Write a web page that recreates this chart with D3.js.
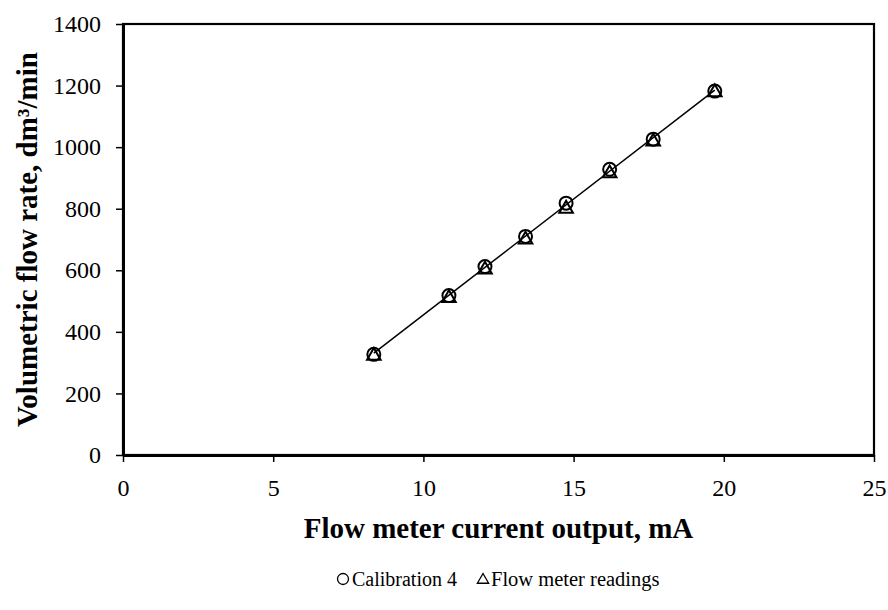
<!DOCTYPE html>
<html><head><meta charset="utf-8">
<script src="https://cdn.jsdelivr.net/npm/d3@7"></script>
<style>body{margin:0;background:#fff}svg{display:block}text{font-family:"Liberation Serif","Times New Roman",serif;fill:#000}</style>
</head><body><svg id="c" width="888" height="610"></svg>
<script>
const currentMA = [8.35, 10.85, 12.05, 13.4, 14.75, 16.2, 17.65, 19.7];
const calibration = [327, 518, 612, 710, 818, 928, 1026, 1182];
const flowMeter = [322, 510, 602, 700, 800, 915, 1018, 1178];
const xTicks = [0, 5, 10, 15, 20, 25];
const yTicks = [0, 200, 400, 600, 800, 1000, 1200, 1400];

const svg = d3.select("#c");
const L = 123, R = 874, T = 24, B = 455;
const x = d3.scaleLinear().domain([0, 25]).range([L, R]);
const y = d3.scaleLinear().domain([0, 1400]).range([B, T]);

// frame
svg.append("rect").attr("x", L).attr("y", T).attr("width", R - L).attr("height", B - T)
  .attr("fill", "none").attr("stroke", "#000").attr("stroke-width", 2.2);

const xa = svg.append("g").attr("transform", `translate(0,${B})`)
  .call(d3.axisBottom(x).tickValues(xTicks).tickFormat(d3.format("d")).tickSize(7).tickSizeOuter(0).tickPadding(17));
const ya = svg.append("g").attr("transform", `translate(${L},0)`)
  .call(d3.axisLeft(y).tickValues(yTicks).tickFormat(d3.format("d")).tickSize(7).tickSizeOuter(0).tickPadding(15));
[xa, ya].forEach(g => {
  g.select(".domain").attr("stroke", "#000").attr("stroke-width", 3);
  g.selectAll(".tick line").attr("stroke", "#000").attr("stroke-width", 1.5);
  g.selectAll("text").style("font-family", '"Liberation Serif",serif').style("font-size", "24px").attr("fill", "#000");
});

// linear trend line (least squares over calibration)
const n = currentMA.length;
const mx = d3.mean(currentMA), my = d3.mean(calibration);
let sxy = 0, sxx = 0;
for (let i = 0; i < n; i++) { sxy += (currentMA[i]-mx)*(calibration[i]-my); sxx += (currentMA[i]-mx)**2; }
const slope = sxy / sxx, icpt = my - slope * mx;
const x0 = d3.min(currentMA), x1 = d3.max(currentMA);
svg.append("line").attr("x1", x(x0)).attr("y1", y(icpt + slope*x0))
  .attr("x2", x(x1)).attr("y2", y(icpt + slope*x1)).attr("stroke", "#000").attr("stroke-width", 1.5);

const tri = d3.symbol().type(d3.symbolTriangle).size(80);
svg.selectAll(".tri").data(flowMeter).join("path")
  .attr("d", tri).attr("transform", (d, i) => `translate(${x(currentMA[i])},${y(d)})`)
  .attr("fill", "none").attr("stroke", "#000").attr("stroke-width", 2);
svg.selectAll(".circ").data(calibration).join("circle")
  .attr("cx", (d, i) => x(currentMA[i])).attr("cy", d => y(d)).attr("r", 6.5)
  .attr("fill", "none").attr("stroke", "#000").attr("stroke-width", 2);

svg.append("text").attr("x", (L + R) / 2).attr("y", 538).attr("text-anchor", "middle")
  .style("font-size", "29px").style("font-weight", "bold").text("Flow meter current output, mA");
svg.append("text").attr("transform", `translate(37,${(T + B) / 2}) rotate(-90)`).attr("text-anchor", "middle")
  .style("font-size", "29px").style("font-weight", "bold").text("Volumetric flow rate, dm³/min");

// legend
const lg = svg.append("g");
lg.append("circle").attr("cx", 343).attr("cy", 579).attr("r", 5.5).attr("fill", "none").attr("stroke", "#000").attr("stroke-width", 1.3);
lg.append("text").attr("x", 352).attr("y", 586).style("font-size", "20px").text("Calibration 4");
lg.append("path").attr("d", d3.symbol().type(d3.symbolTriangle).size(55)).attr("transform", "translate(483,580)")
  .attr("fill", "none").attr("stroke", "#000").attr("stroke-width", 1.3);
lg.append("text").attr("x", 491).attr("y", 586).style("font-size", "20.5px").text("Flow meter readings");
</script></body></html>
